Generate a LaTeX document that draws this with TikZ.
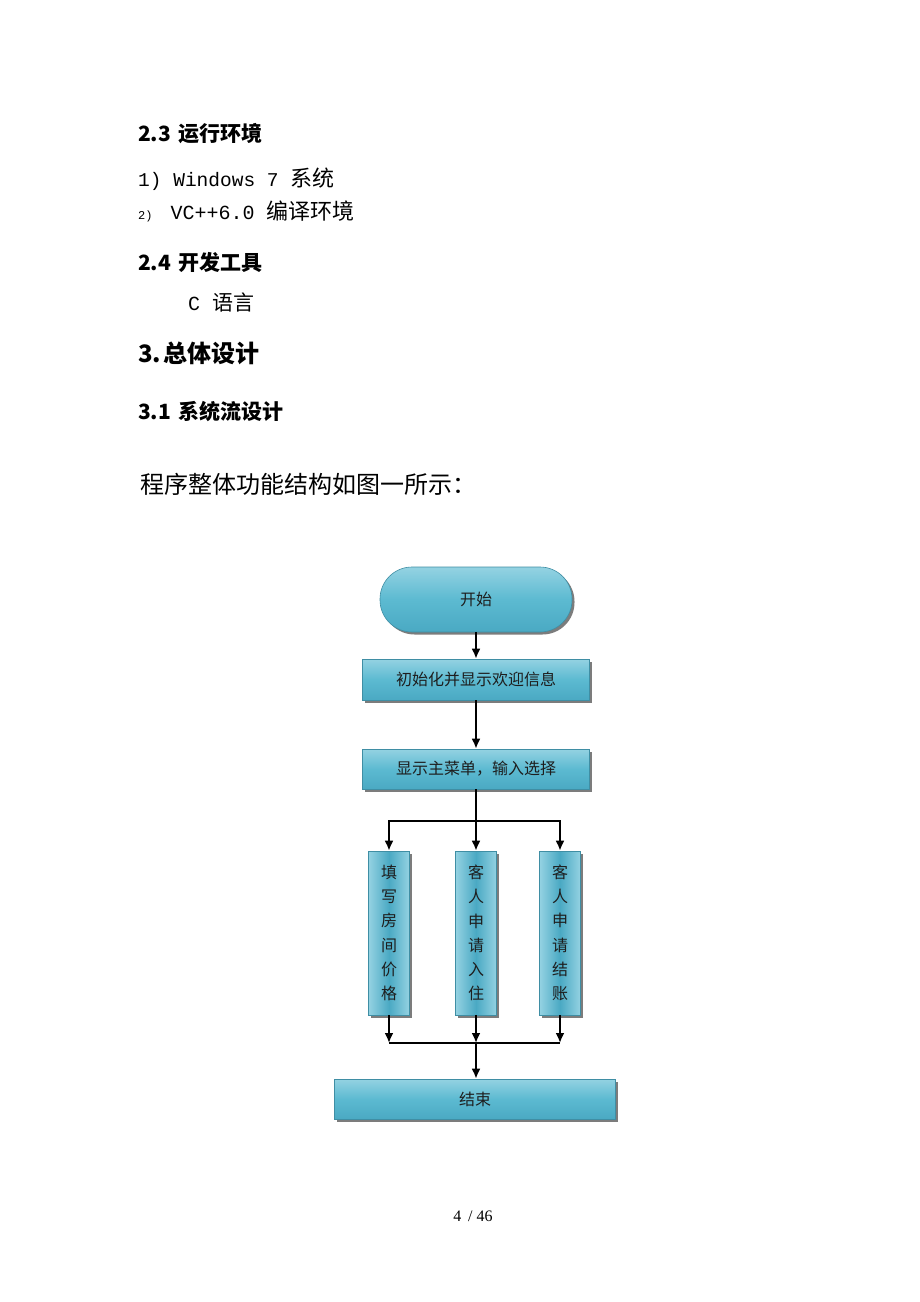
\documentclass[tikz,border=0pt]{standalone}
\usepackage{fontspec}
\newfontfamily\cjk{Noto Sans CJK SC}
\newfontfamily\mono{Liberation Mono}
\newfontfamily\pageserif{Liberation Serif}
\usetikzlibrary{arrows.meta,shadows}
\definecolor{boxlight}{HTML}{94D2E2}
\definecolor{boxmid}{HTML}{5CBAD1}
\definecolor{boxdark}{HTML}{4AA9C3}
\definecolor{boxedge}{HTML}{3F8EA4}
\definecolor{boxtext}{HTML}{1E1E1E}
\tikzset{
  txt/.style={anchor=west,inner sep=0pt,font=\cjk},
  hbox/.style={draw=boxedge,line width=0.6pt,top color=boxlight,bottom color=boxdark,middle color=boxmid,
    drop shadow={shadow xshift=2.5pt,shadow yshift=-2.5pt,fill=black!60,opacity=0.85},
    text=boxtext,font=\cjk\fontsize{16}{16}\selectfont,inner sep=0pt},
  vbox/.style={draw=boxedge,line width=0.6pt,left color=boxlight,right color=boxlight,middle color=boxdark,
    drop shadow={shadow xshift=2.5pt,shadow yshift=-2.5pt,fill=black!60,opacity=0.85},
    text=boxtext,font=\cjk\fontsize{16}{24.3}\selectfont,align=center,inner sep=0pt,
    minimum width=41pt,minimum height=164pt},
  conn/.style={line width=2pt,black},
  arr/.style={conn,-{Latex[length=10pt,width=9pt]}}
}
\begin{document}
\begin{tikzpicture}[x=1pt,y=-1pt]
\useasboundingbox[fill=white] (0,0) rectangle (920,1302);
% text
\node[txt] (h23) at (138,134) {\fontsize{21}{21}\selectfont\bfseries 2.3\hspace{7pt}运行环境};
\node[txt] (l1) at (138,179) {\fontsize{22}{22}\selectfont{\mono\fontsize{19.5}{22}\selectfont 1) Windows 7 }系统};
\node[txt] (l2) at (138,211) {\fontsize{22}{22}\selectfont{\mono\fontsize{12}{22}\selectfont 2)}\hspace{18pt}{\mono\fontsize{20}{22}\selectfont VC++6.0 }编译环境};
\node[txt] (h24) at (138,262) {\fontsize{21}{21}\selectfont\bfseries 2.4\hspace{7pt}开发工具};
\node[txt] (c) at (188,302) {\fontsize{21}{21}\selectfont{\mono\fontsize{20}{22}\selectfont C }语言};
\node[txt] (h3) at (138,353) {\fontsize{24}{24}\selectfont\bfseries 3.\hspace{2pt}总体设计};
\node[txt] (h31) at (138,411) {\fontsize{21}{21}\selectfont\bfseries 3.1\hspace{7pt}系统流设计};
\node[txt] (intro) at (140,484) {\fontsize{24}{24}\selectfont 程序整体功能结构如图一所示：};
% flowchart
\node[hbox,rounded corners=32pt,minimum width=192pt,minimum height=65pt] (start) at (476,599.5) {开始};
\node[hbox,minimum width=227pt,minimum height=41pt] (init) at (476,679.5) {初始化并显示欢迎信息};
\node[hbox,minimum width=227pt,minimum height=40pt] (menu) at (476,769) {显示主菜单，输入选择};
\node[vbox] (b1) at (389,933) {填\\写\\房\\间\\价\\格};
\node[vbox] (b2) at (476,933) {客\\人\\申\\请\\入\\住};
\node[vbox] (b3) at (560,933) {客\\人\\申\\请\\结\\账};
\node[hbox,minimum width=281pt,minimum height=40pt] (end) at (475,1099) {结束};
\coordinate (split) at (476,821);
\coordinate (join) at (476,1043);
\draw[arr] (start) -- (init);
\draw[arr] (init) -- (menu);
\draw[conn] (menu.south) -- (split);
\draw[arr] (split) -| (b1.north);
\draw[arr] (split) -| (b3.north);
\draw[arr] (split) -- (b2.north);
\draw[arr] (b1.south) -- (b1.south |- join);
\draw[arr] (b2.south) -- (join);
\draw[arr] (b3.south) -- (b3.south |- join);
\draw[conn] (b1.south |- join) -- (b3.south |- join);
\draw[arr] (join) -- (end.north -| join);
% page number
\node[inner sep=0pt,font=\pageserif\fontsize{16}{16}\selectfont] (page) at (473,1216) {4 \,/ 46};
\end{tikzpicture}
\end{document}
